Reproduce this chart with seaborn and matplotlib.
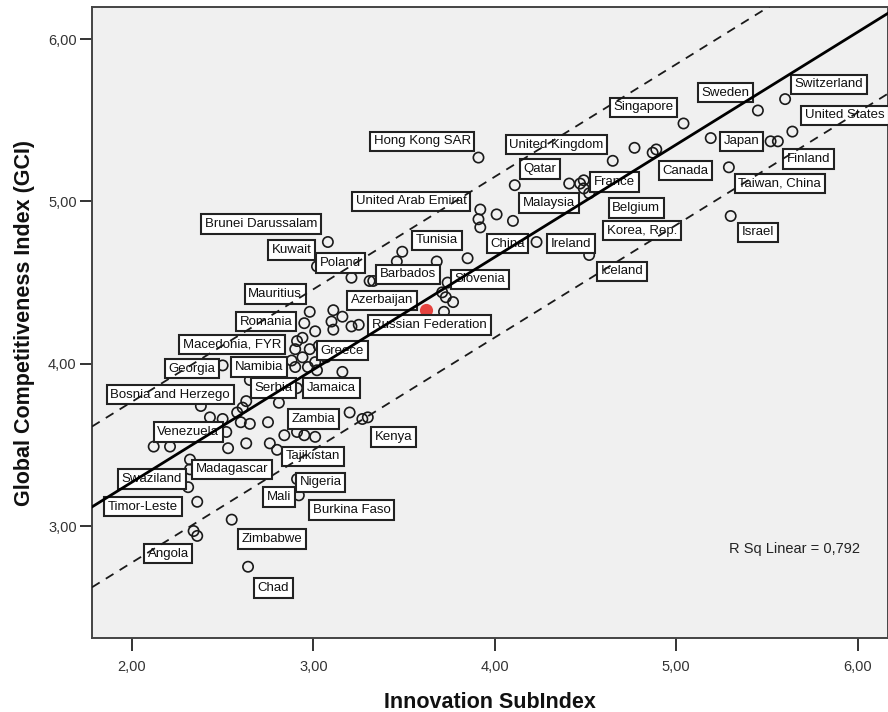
import numpy as np
import matplotlib
matplotlib.use("Agg")
import matplotlib.pyplot as plt
from matplotlib.ticker import FuncFormatter
import seaborn as sns

# ---- data (visible circles) ----
innovation = [5.60, 5.45, 5.04, 5.64, 5.19, 5.52, 5.56, 4.77, 4.87, 4.89,
              3.91, 4.65, 5.29, 4.11, 4.41, 4.47, 4.49, 4.49, 4.52, 4.80,
              3.92, 3.91, 3.92, 4.01, 4.10, 5.30, 4.23, 4.52, 3.08, 3.49,
              3.85, 3.02, 3.21, 3.31, 3.33, 3.46, 3.68, 3.74, 3.71, 3.73,
              3.77, 3.72, 2.98, 3.11, 3.16, 2.95, 3.10, 3.21, 3.25, 3.01,
              3.11, 2.91, 2.94, 2.90, 2.98, 3.03, 2.88, 2.94, 3.01, 3.07,
              2.90, 2.97, 3.02, 2.50, 3.16, 2.65, 2.91, 2.81, 2.63, 2.61,
              2.58, 2.38, 2.65, 2.60, 2.75, 3.20, 3.27, 3.30, 2.43, 2.50,
              2.12, 2.21, 2.53, 2.63, 2.52, 2.76, 2.80, 2.84, 2.91, 2.95,
              3.01, 2.32, 2.32, 2.31, 2.36, 2.91, 2.92, 2.55, 2.34, 2.36,
              2.64]
gci = [5.63, 5.56, 5.48, 5.43, 5.39, 5.37, 5.37, 5.33, 5.30, 5.32,
       5.27, 5.25, 5.21, 5.10, 5.11, 5.11, 5.13, 5.08, 5.05, 4.97,
       4.95, 4.89, 4.84, 4.92, 4.88, 4.91, 4.75, 4.67, 4.75, 4.69,
       4.65, 4.60, 4.53, 4.51, 4.51, 4.63, 4.63, 4.50, 4.44, 4.41,
       4.38, 4.32, 4.32, 4.33, 4.29, 4.25, 4.26, 4.23, 4.24, 4.20,
       4.21, 4.14, 4.16, 4.09, 4.09, 4.11, 4.02, 4.04, 4.01, 4.04,
       3.98, 3.98, 3.96, 3.99, 3.95, 3.90, 3.85, 3.76, 3.77, 3.73,
       3.70, 3.74, 3.63, 3.64, 3.64, 3.70, 3.66, 3.67, 3.67, 3.66,
       3.49, 3.49, 3.48, 3.51, 3.58, 3.51, 3.47, 3.56, 3.58, 3.56,
       3.55, 3.41, 3.35, 3.24, 3.15, 3.29, 3.19, 3.04, 2.97, 2.94,
       2.75]

# highlighted case (red marker)
highlight_x = [3.62]
highlight_y = [4.33]

# fitted line and 95% individual prediction band as drawn in the chart
fit_intercept = 1.885
fit_slope = 0.693
band_half_width = 0.495

# country labels and where their boxes sit
label_names = ["Hong Kong SAR", "United Arab Emirat", "Brunei Darussalam", "Kuwait",
               "Poland", "Tunisia", "Barbados", "Slovenia", "Mauritius", "Azerbaijan",
               "Romania", "Russian Federation", "Macedonia, FYR", "Greece", "Georgia",
               "Namibia", "Serbia", "Jamaica", "Bosnia and Herzego", "Zambia", "Kenya",
               "Venezuela", "Tajikistan", "Madagascar", "Nigeria", "Swaziland", "Mali",
               "Timor-Leste", "Burkina Faso", "Zimbabwe", "Angola", "Chad",
               "Singapore", "Sweden", "Switzerland", "United States", "United Kingdom",
               "Qatar", "Japan", "Canada", "Finland", "France", "Taiwan, China",
               "Malaysia", "Belgium", "Korea, Rep.", "Israel", "China", "Ireland",
               "Iceland"]
label_x = [3.60, 3.54, 2.71, 2.88, 3.15, 3.68, 3.52, 3.92, 2.79, 3.38,
           2.74, 3.64, 2.55, 3.16, 2.33, 2.70, 2.78, 3.10, 2.21, 3.00, 3.44,
           2.31, 3.00, 2.55, 3.04, 2.11, 2.81, 2.06, 3.21, 2.77, 2.20, 2.78,
           4.82, 5.27, 5.84, 5.93, 4.34, 4.25, 5.36, 5.05, 5.73, 4.66, 5.57,
           4.30, 4.78, 4.81, 5.45, 4.07, 4.42, 4.70]
label_y = [5.37, 5.00, 4.86, 4.70, 4.62, 4.76, 4.55, 4.52, 4.43, 4.39,
           4.26, 4.24, 4.12, 4.08, 3.97, 3.98, 3.85, 3.85, 3.81, 3.66, 3.55,
           3.58, 3.43, 3.35, 3.27, 3.29, 3.18, 3.12, 3.10, 2.92, 2.83, 2.62,
           5.58, 5.67, 5.72, 5.53, 5.35, 5.20, 5.37, 5.19, 5.26, 5.12, 5.11,
           4.99, 4.96, 4.82, 4.81, 4.74, 4.74, 4.57]

r_sq_text = "R Sq Linear = 0,792"
x_ticks = [2, 3, 4, 5, 6]
y_ticks = [3, 4, 5, 6]

# ---- figure ----
plt.rcParams['font.family'] = ['Liberation Sans', 'DejaVu Sans']
fig = plt.figure(figsize=(8.88, 7.12), dpi=100)
ax = fig.add_axes([0.1036, 0.1039, 0.8964, 0.8862])
ax.set_facecolor('#F0F0F0')
ax.set_xlim(1.78, 6.167)
ax.set_ylim(2.311, 6.197)

# points
sns.scatterplot(x=innovation, y=gci, ax=ax, marker='o', s=55,
                facecolor='none', edgecolor='#1a1a1a', linewidth=1.2, zorder=2)
sns.scatterplot(x=highlight_x, y=highlight_y, ax=ax, marker='o', s=90,
                color='#E5433F', edgecolor='#E5433F', linewidth=0, zorder=2)

# fit line + prediction band
xs = np.array(ax.get_xlim())
fit = fit_intercept + fit_slope * xs
ax.plot(xs, fit, color='black', lw=2.0, zorder=5)
for sign in (1, -1):
    ax.plot(xs, fit + sign * band_half_width, color='#1a1a1a', lw=1.3,
            linestyle=(0, (5, 4)), zorder=5)

# labels
for name, lx, ly in zip(label_names, label_x, label_y):
    ax.text(lx, ly, name, fontsize=9.5, ha='center', va='center', zorder=4,
            color='#111111',
            bbox=dict(boxstyle='square,pad=0.28', facecolor='white',
                      edgecolor='#222222', linewidth=1.5))

ax.text(0.882, 0.141, r_sq_text, transform=ax.transAxes, fontsize=10.5,
        ha='center', va='center', color='#222222')

# axes styling
fmt = FuncFormatter(lambda v, _: f"{v:.2f}".replace('.', ','))
ax.set_xticks(x_ticks)
ax.set_yticks(y_ticks)
ax.xaxis.set_major_formatter(fmt)
ax.yaxis.set_major_formatter(fmt)
ax.tick_params(axis='x', length=9, width=1.4, color='#333333', pad=7,
               labelsize=10.5, labelcolor='#333333')
ax.tick_params(axis='y', length=9, width=1.4, color='#333333', pad=2,
               labelsize=10.5, labelcolor='#333333')
for sp in ax.spines.values():
    sp.set_color('#444444')
    sp.set_linewidth(1.4)

ax.set_xlabel('Innovation SubIndex', fontsize=15.5, fontweight='bold', color='#111111')
ax.set_ylabel('Global Competitiveness Index (GCI)', fontsize=15.5, fontweight='bold',
              color='#111111')
ax.xaxis.set_label_coords(0.5, -0.085)
ax.yaxis.set_label_coords(-0.072, 0.5)

fig.savefig('out.png', dpi=100)
